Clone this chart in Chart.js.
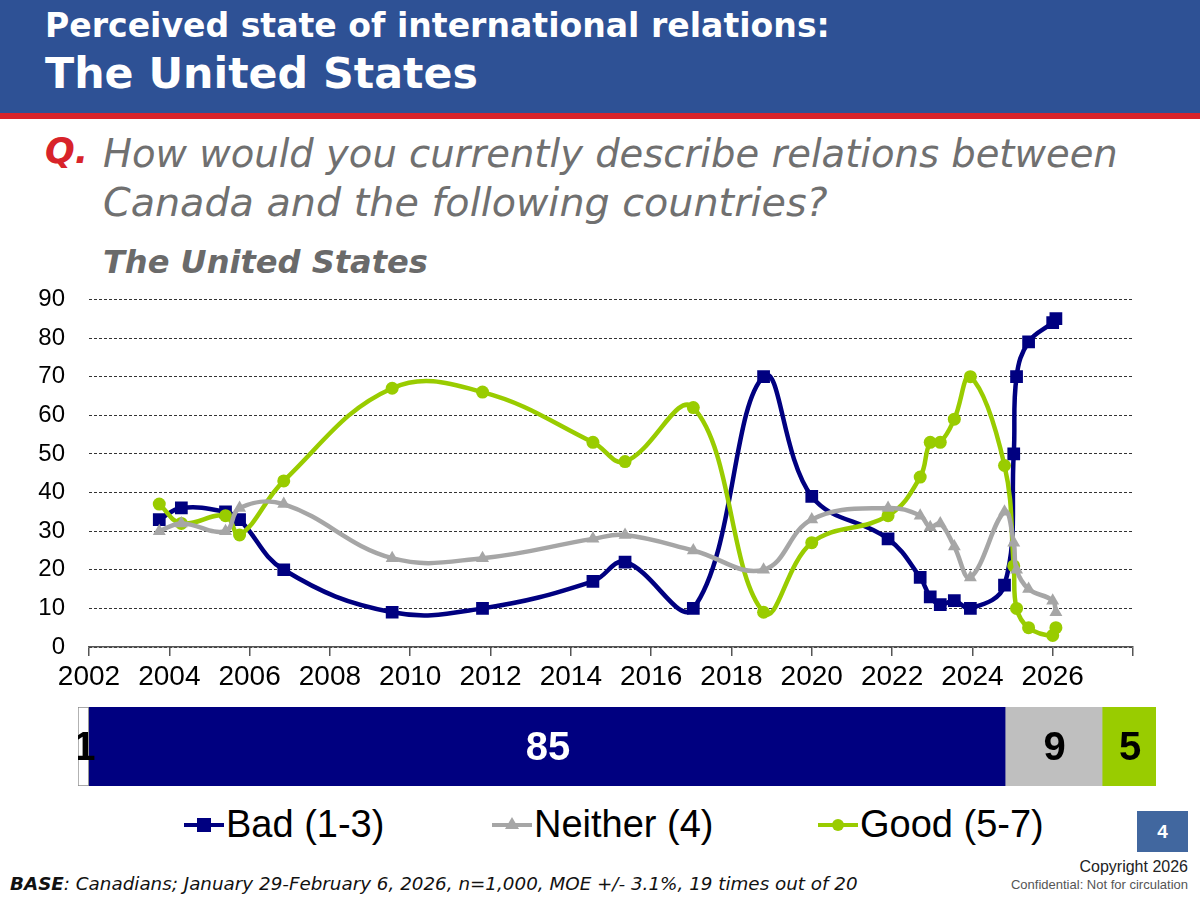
<!DOCTYPE html>
<html>
<head>
<meta charset="utf-8">
<script src="https://cdn.jsdelivr.net/npm/chart.js@4.4.1/dist/chart.umd.min.js"></script>
<style>
  body { margin: 0; width: 1200px; height: 900px; position: relative; background: #fff; overflow: hidden; font-family: "Liberation Sans", Arial, sans-serif; }
  .abs { position: absolute; white-space: nowrap; }
  #header { left: 0; top: 0; width: 1200px; height: 113px; background: #2e5195; }
  #redline { left: 0; top: 113px; width: 1200px; height: 6px; background: #d8232a; }
  .gothic { font-family: "DejaVu Sans", sans-serif; }
  #t1 { left: 45px; top: 6px; color: #fff; font-weight: bold; font-size: 30px; }
  #t2 { left: 45px; top: 48px; color: #fff; font-weight: bold; font-size: 44px; }
  #q { left: 45px; top: 131px; color: #d8232a; font-weight: bold; font-style: italic; font-size: 35px; }
  .qt { left: 103px; color: #707070; font-style: italic; font-size: 35px; }
  #sub { left: 103px; top: 243px; color: #6a6a6a; font-weight: bold; font-style: italic; font-size: 30px; }
  #lineCanvas { position: absolute; left: 0; top: 261px; }
  #barCanvas { position: absolute; left: 78px; top: 707px; }
  .leg { top: 803px; font-size: 38px; color: #000; display: flex; align-items: center; }
  .icon { position: relative; width: 40px; height: 40px; margin-right: 2px; }
  .icon .ln { position: absolute; left: 0; top: 18px; width: 40px; height: 4px; }
  .icon .mk { position: absolute; }
  #page { left: 1137px; top: 811px; width: 51px; height: 41px; background: #41679f; color: #fff; font-weight: bold; font-size: 19px; text-align: center; line-height: 41px; }
  #copy { right: 12px; top: 858px; font-size: 16px; color: #222; }
  #conf { right: 12px; top: 877px; font-size: 13px; color: #555; }
  #base { left: 10px; top: 873px; font-size: 17px; font-style: italic; color: #111; }
</style>
</head>
<body>
<div id="header" class="abs"></div>
<div id="redline" class="abs"></div>
<div id="t1" class="abs gothic" data-w="785">Perceived state of international relations:</div>
<div id="t2" class="abs gothic" data-w="433">The United States</div>
<div id="q" class="abs gothic">Q.</div>
<div class="abs gothic qt" style="top:131px" data-w="1015">How would you currently describe relations between</div>
<div class="abs gothic qt" style="top:179px" data-w="725">Canada and the following countries?</div>
<div id="sub" class="abs gothic" data-w="325">The United States</div>

<canvas id="lineCanvas" width="1200" height="447"></canvas>
<canvas id="barCanvas" width="1078" height="79"></canvas>

<div class="abs leg" style="left:184px">
  <div class="icon"><div class="ln" style="background:#000080"></div><div class="mk" style="left:13px;top:13px;width:14px;height:14px;background:#000080"></div></div>Bad (1-3)
</div>
<div class="abs leg" style="left:492px">
  <div class="icon"><div class="ln" style="background:#a6a6a6"></div><div class="mk" style="left:13px;top:12px;width:0;height:0;border-left:7px solid transparent;border-right:7px solid transparent;border-bottom:12px solid #a6a6a6"></div></div>Neither (4)
</div>
<div class="abs leg" style="left:818px">
  <div class="icon"><div class="ln" style="background:#99cc00"></div><div class="mk" style="left:14px;top:14px;width:12px;height:12px;border-radius:6px;background:#99cc00"></div></div>Good (5-7)
</div>

<div id="page" class="abs">4</div>
<div id="copy" class="abs">Copyright 2026</div>
<div id="conf" class="abs">Confidential: Not for circulation</div>
<div id="base" class="abs gothic" data-w="848"><b>BASE</b>: Canadians; January 29-February 6, 2026, n=1,000, MOE +/- 3.1%, 19 times out of 20</div>

<script>
// survey dates (decimal years) and results per answer group
const surveyDates = [2003.75, 2004.3, 2005.4, 2005.75, 2006.85, 2009.55, 2011.8, 2014.55, 2015.35, 2017.05, 2018.8, 2020.0,
                     2021.9, 2022.7, 2022.95, 2023.2, 2023.55, 2023.95, 2024.8, 2025.03, 2025.1, 2025.4, 2026.0, 2026.08];
const badValues     = [33, 36, 35, 33, 20, 9, 10, 17, 22, 10, 70, 39, 28, 18, 13, 11, 12, 10, 16, 50, 70, 79, 84, 85];
const neitherValues = [30, 32, 30, 36, 37, 23, 23, 28, 29, 25, 20, 33, 36, 34, 31, 32, 26, 18, 35, 27, 20, 15, 12, 9];
const goodValues    = [37, 32, 34, 29, 43, 67, 66, 53, 48, 62, 9, 27, 34, 44, 53, 53, 59, 70, 47, 21, 10, 5, 3, 5];

// latest wave, shown in the bar under the chart
const latestLabels = ['Don\'t know', 'Bad (1-3)', 'Neither (4)', 'Good (5-7)'];
const latestValues = [1, 85, 9, 5];

const yearMin = 2002, yearMax = 2028, yearStep = 2;
const pctMax = 90, pctStep = 10;

// fit header texts to the width they take in the slide
document.querySelectorAll('[data-w]').forEach(el => {
    const target = +el.dataset.w;
    const size = parseFloat(getComputedStyle(el).fontSize);
    el.style.fontSize = (size * target / el.getBoundingClientRect().width) + 'px';
});

function toPoints(vals) {
    return vals.map((v, i) => ({ x: surveyDates[i], y: v }));
}

function lineSet(label, vals, color, shape, radius) {
    return {
        label: label,
        data: toPoints(vals),
        borderColor: color,
        backgroundColor: color,
        borderWidth: 4.5,
        pointStyle: shape,
        pointRadius: radius,
        pointBorderWidth: 0,
        tension: 0.4
    };
}

new Chart(document.getElementById('lineCanvas'), {
    type: 'line',
    data: {
        datasets: [
            lineSet('Neither (4)', neitherValues, '#a6a6a6', 'triangle', 7.5),
            lineSet('Good (5-7)', goodValues, '#99cc00', 'circle', 6.5),
            lineSet('Bad (1-3)', badValues, '#000080', 'rect', 9)
        ]
    },
    options: {
        responsive: false,
        animation: false,
        layout: { padding: { top: 10, right: 67, bottom: 11, left: 0 } },
        plugins: { legend: { display: false }, tooltip: { enabled: false } },
        scales: {
            x: {
                type: 'linear',
                min: yearMin,
                max: yearMax,
                afterFit: s => { s.height = 50; },
                ticks: {
                    stepSize: yearStep,
                    autoSkip: false,
                    maxRotation: 0,
                    padding: 4,
                    color: '#000',
                    font: { family: 'Liberation Sans', size: 28 },
                    callback: v => v === yearMax ? '' : String(v)
                },
                grid: { drawOnChartArea: false, drawTicks: true, tickLength: 9, color: '#555', lineWidth: 1.5 },
                border: { display: true, color: '#555', width: 1.5 }
            },
            y: {
                min: 0,
                max: pctMax,
                afterFit: s => { s.width = 89; },
                ticks: {
                    stepSize: pctStep,
                    padding: 24,
                    color: '#000',
                    font: { family: 'Liberation Sans', size: 24 }
                },
                grid: { color: '#333', lineWidth: 1, drawTicks: false },
                border: { display: false, dash: [3, 2] }
            }
        }
    }
});

const barColors = ['#ffffff', '#000080', '#bfbfbf', '#99cc00'];
const barTextColors = ['#000', '#fff', '#000', '#000'];

const barLabels = {
    id: 'barLabels',
    afterDatasetsDraw(chart) {
        const ctx = chart.ctx;
        ctx.save();
        ctx.font = 'bold 40px "Liberation Sans", Arial';
        ctx.textAlign = 'center';
        ctx.textBaseline = 'middle';
        chart.data.datasets.forEach((ds, i) => {
            const bar = chart.getDatasetMeta(i).data[0];
            ctx.fillStyle = barTextColors[i];
            ctx.fillText(String(ds.data[0]), (bar.x + bar.base) / 2 + 1, bar.y + 2);
        });
        ctx.restore();
    }
};

new Chart(document.getElementById('barCanvas'), {
    type: 'bar',
    data: {
        labels: ['2026'],
        datasets: latestValues.map((v, i) => ({
            label: latestLabels[i],
            data: [v],
            backgroundColor: barColors[i],
            borderColor: i === 0 ? '#8c8c8c' : barColors[i],
            borderWidth: i === 0 ? 1 : 0,
            borderSkipped: false,
            barPercentage: 1,
            categoryPercentage: 1
        }))
    },
    options: {
        indexAxis: 'y',
        responsive: false,
        animation: false,
        layout: { padding: 0 },
        plugins: { legend: { display: false }, tooltip: { enabled: false } },
        scales: {
            x: { display: false, stacked: true, min: 0, max: 100 },
            y: { display: false, stacked: true }
        }
    },
    plugins: [barLabels]
});
</script>
</body>
</html>
